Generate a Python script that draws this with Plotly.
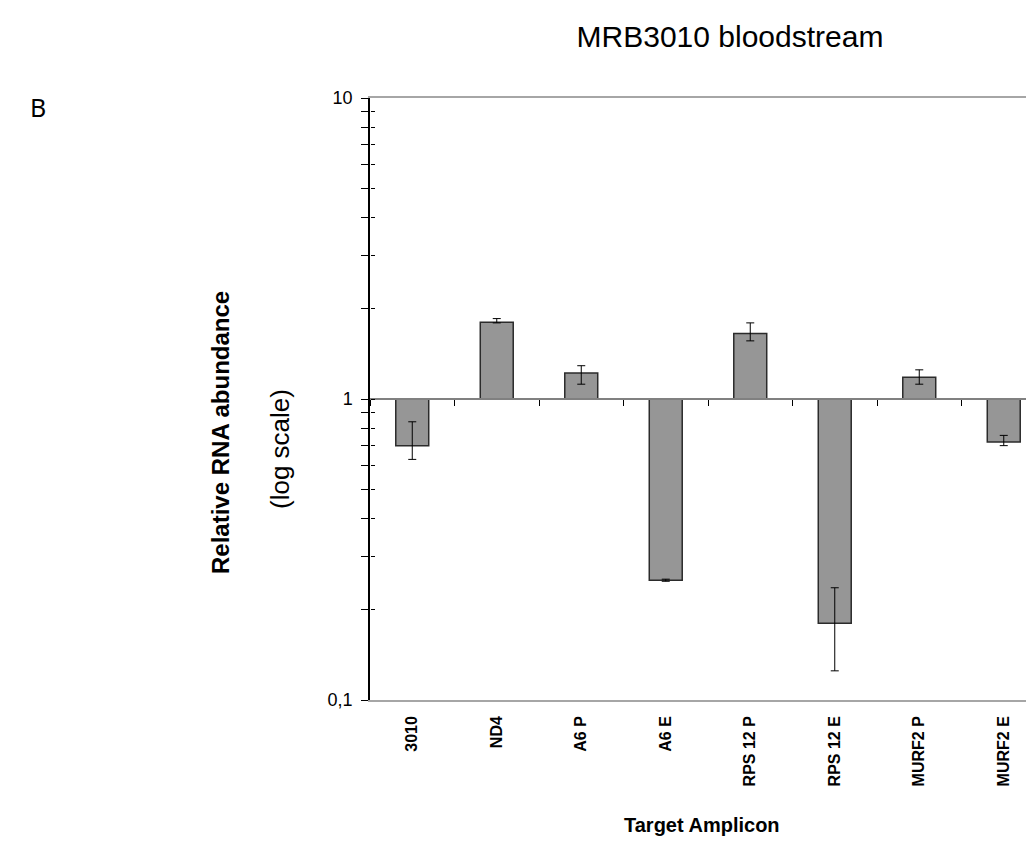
import plotly.graph_objects as go

categories = ["3010", "ND4", "A6 P", "A6 E", "RPS 12 P", "RPS 12 E", "MURF2 P", "MURF2 E"]
values = [0.70, 1.80, 1.22, 0.25, 1.65, 0.18, 1.18, 0.72]
err_high = [0.84, 1.85, 1.29, 0.252, 1.79, 0.236, 1.25, 0.757]
err_low = [0.63, 1.79, 1.12, 0.248, 1.56, 0.125, 1.12, 0.70]
y_tickvals = [0.1, 0.2, 0.3, 0.4, 0.5, 0.6, 0.7, 0.8, 0.9,
              1, 2, 3, 4, 5, 6, 7, 8, 9, 10]
y_ticktext = ["0,1"] + [""] * 8 + ["1"] + [""] * 8 + ["10"]

baseline = 1.0
FONT = "Liberation Sans, Arial, sans-serif"

fig = go.Figure()
fig.add_trace(go.Bar(
    x=categories,
    y=[v - baseline for v in values],
    base=[baseline] * len(values),
    width=0.39,
    marker=dict(color="#969696", line=dict(color="#2b2b2b", width=1.5)),
    error_y=dict(
        type="data", symmetric=False,
        array=[h - v for h, v in zip(err_high, values)],
        arrayminus=[v - l for v, l in zip(values, err_low)],
        color="black", thickness=1, width=4,
    ),
    showlegend=False, hoverinfo="skip",
))
# invisible trace carrying the overlay axes (category axis crossing at y = 1)
fig.add_trace(go.Scatter(
    x=categories, y=[baseline] * len(categories), xaxis="x2", yaxis="y2",
    mode="markers", marker=dict(opacity=0), showlegend=False, hoverinfo="skip",
))

xrange = [-0.5, 7.358]
fig.update_layout(
    width=1026, height=860,
    margin=dict(l=362, r=0, t=90, b=168),
    paper_bgcolor="white", plot_bgcolor="white",
    font=dict(family=FONT, color="black"),
    title=dict(text="MRB3010 bloodstream", x=0.7037, y=0.9663,
               xanchor="center", yanchor="middle",
               font=dict(family=FONT, size=30, color="black")),
    xaxis=dict(
        type="category", categoryorder="array", categoryarray=categories,
        range=xrange, showline=True, linecolor="#a6a6a6", linewidth=1.5,
        mirror=True, ticks="", showgrid=False, tickangle=-90,
        tickfont=dict(family=FONT, size=16, color="black", weight="bold"),
        ticklabelstandoff=8, zeroline=False,
    ),
    xaxis2=dict(
        type="category", categoryorder="array", categoryarray=categories,
        range=xrange, overlaying="x", anchor="free", position=0.5,
        showline=True, linecolor="#808080", linewidth=1.5,
        ticks="outside", tickson="boundaries", ticklen=6, tickcolor="black",
        tickwidth=1, showticklabels=False, showgrid=False, zeroline=False,
    ),
    yaxis=dict(
        type="log", range=[-1, 1], showline=True, linecolor="black", linewidth=1.5,
        ticks="outside", ticklen=7, tickcolor="black", tickwidth=1,
        tickmode="array", tickvals=y_tickvals, ticktext=y_ticktext,
        tickfont=dict(family=FONT, size=18, color="black"),
        ticklabelstandoff=5, showgrid=False, zeroline=False,
    ),
    yaxis2=dict(
        type="log", range=[-1, 1], overlaying="y", anchor="free", position=0,
        side="left", showline=False, ticks="inside", ticklen=4,
        tickcolor="black", tickwidth=1, tickmode="array", tickvals=y_tickvals,
        showticklabels=False, showgrid=False, zeroline=False,
    ),
    annotations=[
        dict(text="<b>Relative RNA abundance</b>", xref="paper", yref="paper",
             x=-0.2244, y=0.4452, textangle=-90, showarrow=False,
             xanchor="center", yanchor="middle",
             font=dict(family=FONT, size=24, color="black")),
        dict(text="(log scale)", xref="paper", yref="paper",
             x=-0.1355, y=0.417, textangle=-90, showarrow=False,
             xanchor="center", yanchor="middle",
             font=dict(family=FONT, size=26, color="black")),
        dict(text="<b>Target Amplicon</b>", xref="paper", yref="paper",
             x=0.5, y=-0.2076, showarrow=False,
             xanchor="center", yanchor="middle",
             font=dict(family=FONT, size=20, color="black")),
        dict(text="B", xref="paper", yref="paper",
             x=-0.5, y=0.985, showarrow=False,
             xanchor="center", yanchor="middle",
             font=dict(family="Noto Sans, Open Sans, sans-serif", size=25, color="black")),
    ],
)

fig.write_html("out.html")
